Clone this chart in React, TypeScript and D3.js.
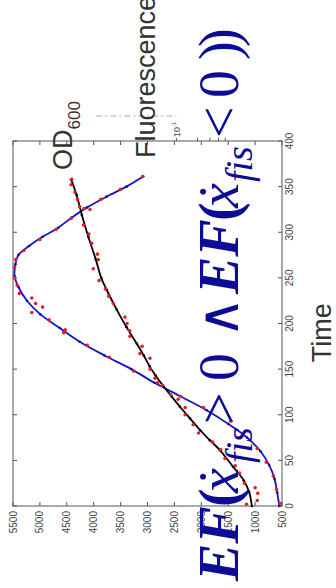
import { useEffect, useRef } from "react";
import * as d3 from "d3";

// axis ticks
const timeTicks = [0, 50, 100, 150, 200, 250, 300, 350, 400];
const valueTicks = [500, 1000, 1500, 2000, 2500, 3000, 3500, 4000, 4500, 5000, 5500];
const fluorTicks = [0.1, 0.2, 0.3, 0.4, 0.5];

// fitted curves [time, value]
const blueFit: [number, number][] = [
	[0, 550], [15, 590], [30, 640], [45, 740], [60, 900], [75, 1150], [90, 1500],
	[105, 1900], [120, 2380], [135, 2870], [150, 3300], [165, 3800], [180, 4260],
	[195, 4630], [210, 4990], [225, 5240], [240, 5400], [252, 5470], [265, 5455],
	[275, 5400], [285, 5200], [295, 4950], [305, 4660], [316, 4410], [327, 4130],
	[339, 3760], [350, 3390], [361, 3080]
];

const blackFit: [number, number][] = [
	[0, 1060], [15, 1110], [28, 1210], [43, 1410], [61, 1650], [72, 1840],
	[83, 2020], [96, 2210], [109, 2400], [120, 2550], [131, 2700], [143, 2850],
	[153, 2960], [165, 3070], [178, 3200], [196, 3390], [215, 3570], [237, 3760],
	[250, 3860], [270, 3960], [295, 4100], [319, 4220], [341, 4320], [358, 4420]
];

// measured points [time, value]
const blueObs: [number, number][] = [
	[3, 540], [18, 600], [33, 660], [48, 790], [63, 960], [78, 1230], [93, 1450],
	[108, 1960], [120, 2380], [135, 2810], [148, 3260], [163, 3710], [176, 4120],
	[190, 4560], [193, 4530], [204, 4830], [212, 5150], [218, 4950], [222, 5080],
	[228, 5150], [233, 5380], [242, 5420], [250, 5470], [262, 5470], [270, 5450],
	[280, 5300], [292, 5000], [303, 4700], [315, 4420], [326, 4180], [336, 3870],
	[347, 3500], [361, 3090]
];

const blackObs: [number, number][] = [
	[2, 1160], [6, 960], [14, 950], [20, 1000], [25, 1200], [36, 1290], [44, 1370],
	[52, 1560], [62, 1640], [70, 1790], [80, 2050], [89, 2150], [100, 2300],
	[108, 2300], [117, 2430], [122, 2570], [132, 2720], [140, 2860], [150, 2950],
	[162, 2954], [167, 3140], [175, 3100], [186, 3325], [192, 3330], [200, 3380],
	[207, 3420], [222, 3636], [230, 3720], [238, 3780], [247, 3900], [260, 4008],
	[270, 3915], [276, 3930], [288, 4038], [298, 4090], [308, 4190], [325, 4069],
	[328, 4260], [336, 4300], [344, 4350], [352, 4420], [358, 4410]
];

// formula overlay pieces
const formula = [
	{ text: "EF", kind: "bi" },
	{ text: "(", kind: "b" },
	{ text: "ẋ", kind: "i" },
	{ text: "fis", kind: "sub" },
	{ text: ">", kind: "r" },
	{ text: "0", kind: "r" },
	{ text: "∧", kind: "r" },
	{ text: "EF", kind: "bi" },
	{ text: "(", kind: "b" },
	{ text: "ẋ", kind: "i" },
	{ text: "fis", kind: "sub" },
	{ text: "<", kind: "r" },
	{ text: "0", kind: "r" },
	{ text: ")", kind: "r" },
	{ text: ")", kind: "r" }
];

export default function App() {
	const ref = useRef<SVGSVGElement>(null);

	useEffect(() => {
		const svg = d3.select(ref.current);
		svg.selectAll("*").remove();

		const left = 13, right = 282, top = 141, bottom = 506;

		// chart is drawn rotated: time runs upward, values run leftward
		const yT = d3.scaleLinear().domain([0, 400]).range([bottom, top]);
		const xV = d3.scaleLinear().domain([500, 5500]).range([right, left]);
		const xF = d3.scaleLog().domain([0.1, 1]).range([xV(2500) + 2, xV(2500) + 72]);

		svg.append("rect").attr("width", 336).attr("height", 588).attr("fill", "#fff");

		const axisColor = "#555";
		const labelColor = "#444";

		// faint dashed line above the box
		svg.append("line")
			.attr("x1", xV(3950)).attr("x2", xF(0.1))
			.attr("y1", top - 25).attr("y2", top - 25)
			.attr("stroke", "#aaa").attr("stroke-width", 1)
			.attr("stroke-dasharray", "6,3,2,3");

		// box
		svg.append("rect")
			.attr("x", left).attr("y", top)
			.attr("width", right - left).attr("height", bottom - top)
			.attr("fill", "none").attr("stroke", axisColor).attr("stroke-width", 1);

		// value ticks (bottom with labels, mirrored on top)
		valueTicks.forEach(v => {
			const x = xV(v);
			svg.append("line").attr("x1", x).attr("x2", x).attr("y1", bottom).attr("y2", bottom - 4)
				.attr("stroke", axisColor);
			svg.append("line").attr("x1", x).attr("x2", x).attr("y1", top).attr("y2", top + 4)
				.attr("stroke", axisColor);
			svg.append("text")
				.attr("transform", `translate(${x + 3.5},${bottom + 5}) rotate(-90)`)
				.attr("text-anchor", "end")
				.attr("font-family", "Liberation Sans, Arial, sans-serif")
				.attr("font-size", "10px")
				.attr("fill", labelColor)
				.text(v);
		});

		// time ticks (right with labels, mirrored on left)
		timeTicks.forEach(t => {
			const y = yT(t);
			svg.append("line").attr("x1", right).attr("x2", right - 4).attr("y1", y).attr("y2", y)
				.attr("stroke", axisColor);
			svg.append("line").attr("x1", left).attr("x2", left + 4).attr("y1", y).attr("y2", y)
				.attr("stroke", axisColor);
			svg.append("text")
				.attr("transform", `translate(${right + 11},${y}) rotate(-90)`)
				.attr("text-anchor", "middle")
				.attr("font-family", "Liberation Sans, Arial, sans-serif")
				.attr("font-size", "10px")
				.attr("fill", labelColor)
				.text(t);
		});

		// fluorescence log ticks on top
		fluorTicks.forEach(f => {
			svg.append("line").attr("x1", xF(f)).attr("x2", xF(f))
				.attr("y1", top).attr("y2", top - 3).attr("stroke", axisColor);
		});
		const fl = svg.append("text")
			.attr("transform", `translate(${xF(0.1) + 4},${top - 4}) rotate(-90)`)
			.attr("font-family", "Liberation Sans, Arial, sans-serif")
			.attr("font-size", "9px")
			.attr("fill", labelColor);
		fl.append("tspan").text("10");
		fl.append("tspan").attr("dy", -4).attr("font-size", "6px").text("-1");

		// curves
		const line = d3.line<[number, number]>()
			.x(d => xV(d[1]))
			.y(d => yT(d[0]))
			.curve(d3.curveCatmullRom.alpha(0.5));

		svg.append("path").datum(blueFit).attr("d", line)
			.attr("fill", "none").attr("stroke", "#1414c8").attr("stroke-width", 1.8);
		svg.append("path").datum(blackFit).attr("d", line)
			.attr("fill", "none").attr("stroke", "#000").attr("stroke-width", 1.8);

		svg.selectAll(".bdot").data(blueFit).enter().append("circle")
			.attr("cx", d => xV(d[1])).attr("cy", d => yT(d[0])).attr("r", 1.3).attr("fill", "#1010a0");
		svg.selectAll(".kdot").data(blackFit).enter().append("circle")
			.attr("cx", d => xV(d[1])).attr("cy", d => yT(d[0])).attr("r", 1.3).attr("fill", "#000");

		// measured points
		svg.selectAll(".obs").data([...blueObs, ...blackObs]).enter().append("circle")
			.attr("cx", d => xV(d[1])).attr("cy", d => yT(d[0])).attr("r", 1.8).attr("fill", "#e51e24");

		// axis titles
		const title = (tx: number, ty: number, anchor: string) =>
			svg.append("text")
				.attr("transform", `translate(${tx},${ty}) rotate(-90)`)
				.attr("text-anchor", anchor)
				.attr("font-family", "Liberation Sans, Arial, sans-serif")
				.attr("font-size", "27px")
				.attr("fill", "#333");

		title(331, yT(190), "middle").text("Time");
		title(155, 158, "start").text("Fluorescence");
		const od = title(72, 170, "start");
		od.append("tspan").text("OD");
		od.append("tspan").attr("dy", 8).attr("font-size", "17px").text("600");

		// formula overlay, each piece placed along the rotated baseline
		const along = [0, 74, 88, 118, 157, 200, 243, 287, 360, 373, 399, 443, 483, 521, 534];
		const ft = svg.append("text")
			.attr("transform", "translate(238,581) rotate(-90)")
			.attr("font-family", "Liberation Serif, Times New Roman, serif")
			.attr("font-size", "56px")
			.attr("fill", "#0c0c96");
		formula.forEach((p, i) => {
			const ts = ft.append("tspan").attr("x", along[i]).attr("y", 0).text(p.text);
			if (p.kind === "bi") ts.attr("font-weight", "bold").attr("font-style", "italic");
			if (p.kind === "b") ts.attr("font-weight", "bold");
			if (p.kind === "i") ts.attr("font-style", "italic");
			if (p.kind === "sub") ts.attr("font-style", "italic").attr("font-size", "38px").attr("y", 14);
		});
	}, []);

	return (
		<svg ref={ref} width={336} height={588}
			style={{ position: "absolute", left: 0, top: 0, display: "block" }} />
	);
}
